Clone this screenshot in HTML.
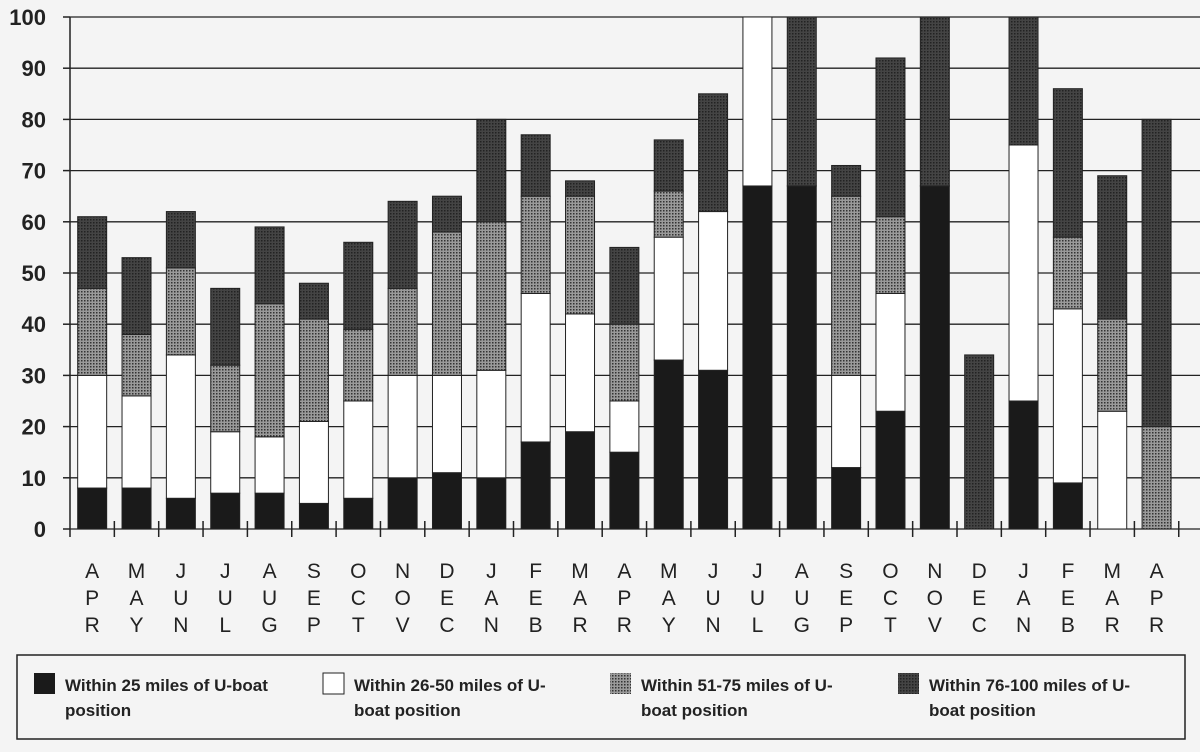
<!DOCTYPE html>
<html><head><meta charset="utf-8"><style>
body{margin:0;background:#f4f4f4;width:1200px;height:747px;overflow:hidden;font-family:"Liberation Sans",sans-serif}
</style></head><body>
<svg width="1200" height="747" xmlns="http://www.w3.org/2000/svg">
<defs>
<pattern id="lt" width="3" height="3" patternUnits="userSpaceOnUse"><rect width="3" height="3" fill="#9a9a9a"/><rect width="1.5" height="1.5" fill="#333"/></pattern>
<pattern id="dk" width="3" height="3" patternUnits="userSpaceOnUse"><rect width="3" height="3" fill="#444"/><rect width="1.5" height="1.5" fill="#222"/></pattern>
</defs>
<g id="grid"></g><g id="bars"></g><g id="axes"></g>
<g>
<rect x="17" y="655" width="1168" height="84" fill="none" stroke="#222" stroke-width="1.5"/>
<g font-size="17" font-weight="bold" fill="#222">
<rect x="34" y="673" width="21" height="21" fill="#1a1a1a"/>
<text x="65" y="691">Within 25 miles of U-boat</text><text x="65" y="716">position</text>
<rect x="323" y="673" width="21" height="21" fill="#fff" stroke="#222"/>
<text x="354" y="691">Within 26-50 miles of U-</text><text x="354" y="716">boat position</text>
<rect x="610" y="673" width="21" height="21" fill="url(#lt)"/>
<text x="641" y="691">Within 51-75 miles of U-</text><text x="641" y="716">boat position</text>
<rect x="898" y="673" width="21" height="21" fill="url(#dk)"/>
<text x="929" y="691">Within 76-100 miles of U-</text><text x="929" y="716">boat position</text>
</g></g>
</svg>
<script>
const months=["APR","MAY","JUN","JUL","AUG","SEP","OCT","NOV","DEC","JAN","FEB","MAR","APR","MAY","JUN","JUL","AUG","SEP","OCT","NOV","DEC","JAN","FEB","MAR","APR"];
const within25=[8,8,6,7,7,5,6,10,11,10,17,19,15,33,31,67,67,12,23,67,0,25,9,0,0];
const within50=[22,18,28,12,11,16,19,20,19,21,29,23,10,24,31,33,0,18,23,0,0,50,34,23,0];
const within75=[17,12,17,13,26,20,14,17,28,29,19,23,15,9,0,0,0,35,15,0,0,0,14,18,20];
const within100=[14,15,11,15,15,7,17,17,7,20,12,3,15,10,23,0,33,6,31,33,34,25,29,28,60];
const yTicks=[0,10,20,30,40,50,60,70,80,90,100];
const NS="http://www.w3.org/2000/svg";
const x0=70,y0=529,yTop=17,band=44.35,bw=29;
const ys=v=>y0-(v/100)*(y0-yTop);
const xs=i=>x0+band*i+band/2;
function mk(p,t,a){const e=document.createElementNS(NS,t);for(const k in a)e.setAttribute(k,a[k]);p.appendChild(e);return e;}
const grid=document.getElementById('grid'),bars=document.getElementById('bars'),axes=document.getElementById('axes');
yTicks.forEach(v=>{
 const l=mk(grid,'line',{x1:x0,x2:1200,y1:ys(v),y2:ys(v),stroke:'#222','stroke-width':1.3});
 
 
 const t=mk(axes,'text',{x:46,y:ys(v)+8,'text-anchor':'end','font-size':22,'font-weight':'bold',fill:'#222'});
 t.textContent=v;
 
 
 mk(axes,'line',{x1:x0-7,x2:x0,y1:ys(v),y2:ys(v),stroke:'#222','stroke-width':1.5});
});
const ax=mk(axes,'line',{x1:x0,x2:x0,y1:yTop,y2:y0+8,stroke:'#222','stroke-width':1.5});


const series=[[within25,'#1a1a1a','within-25'],[within50,'#fff','within-50'],[within75,'url(#lt)','within-75'],[within100,'url(#dk)','within-100']];
months.forEach((m,i)=>{
 let c=0;
 series.forEach(([arr,f,n])=>{
  const v=arr[i];if(v<=0)return;
  const r=mk(bars,'rect',{x:xs(i)-bw/2,y:ys(c+v),width:bw,height:ys(c)-ys(c+v),fill:f,stroke:'#222','stroke-width':1});
  
  
  c+=v;
 });
 mk(axes,'line',{x1:x0+band*(i+1),x2:x0+band*(i+1),y1:y0-8,y2:y0+8,stroke:'#222','stroke-width':1.5});
 [...m].forEach((ch,j)=>{
  const t=mk(axes,'text',{x:xs(i),y:578+j*27,'text-anchor':'middle','font-size':21,fill:'#222'});
  t.textContent=ch;
  
  
 });
});
</script>
</body></html>
